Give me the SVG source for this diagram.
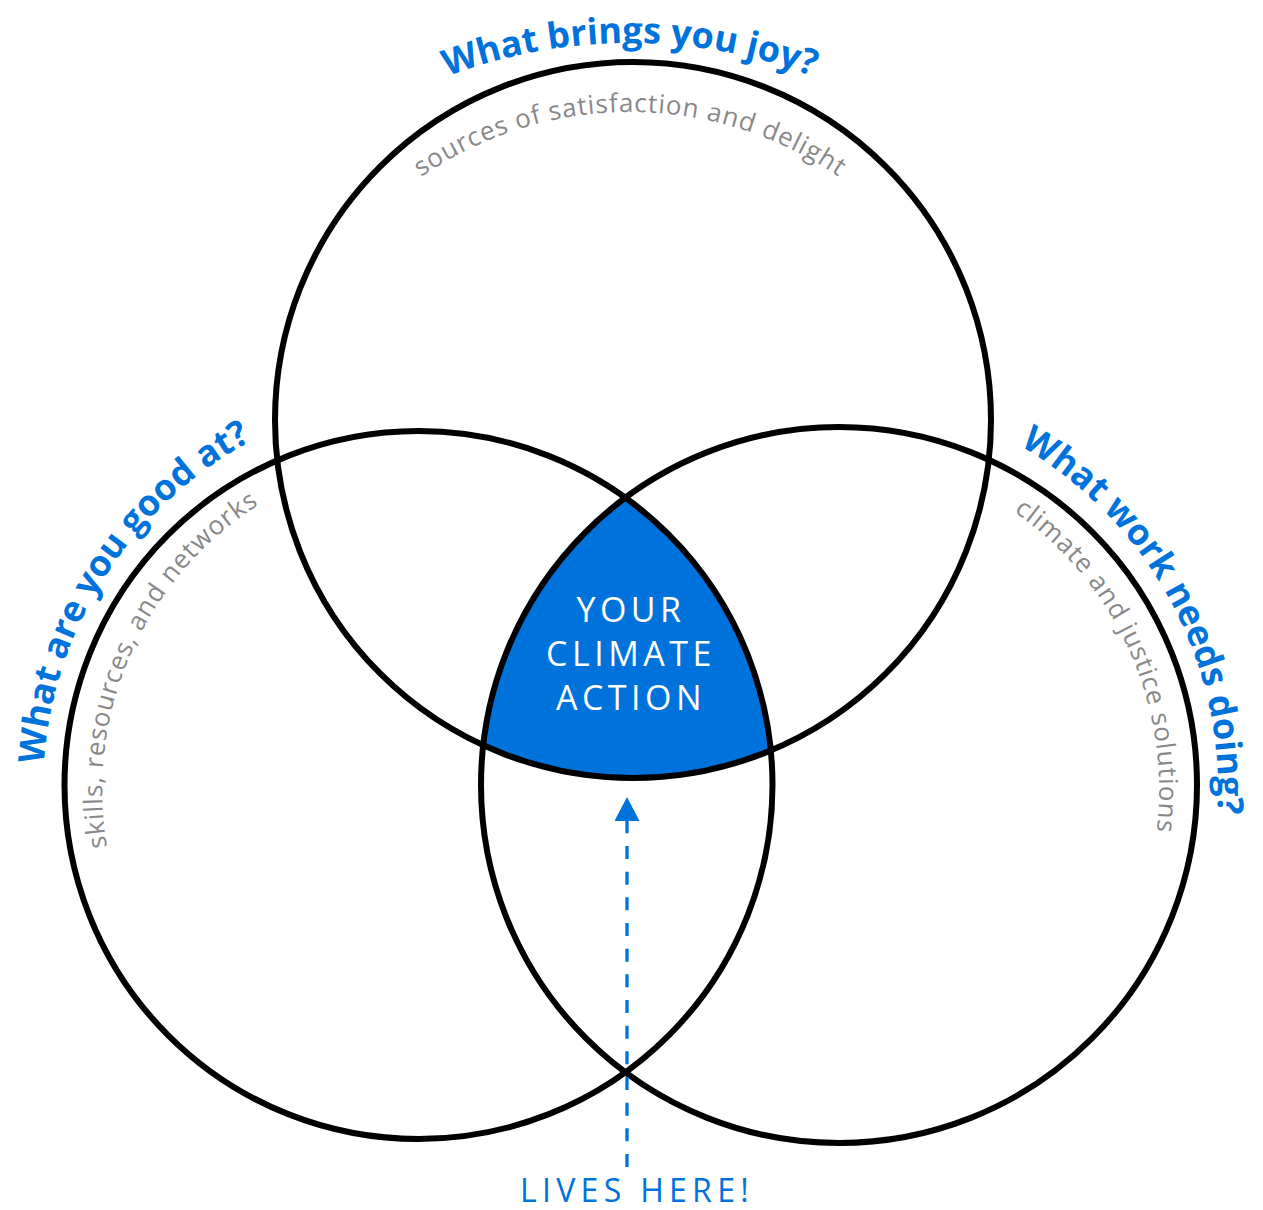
<svg xmlns="http://www.w3.org/2000/svg" width="1263" height="1210" viewBox="0 0 1263 1210">
<style>
.circ{fill:none;stroke:#000;stroke-width:6}
.title{font-family:"Open Sans","Noto Sans",sans-serif;font-weight:700;font-size:36px;fill:#0072DB}
.sub{font-family:"Open Sans","Noto Sans",sans-serif;font-size:26px;fill:#888888;letter-spacing:0.9px}
.mid{font-family:"Open Sans","Noto Sans",sans-serif;font-size:34px;fill:#fff;letter-spacing:4.5px;text-anchor:middle}
.lives{font-family:"Open Sans","Noto Sans",sans-serif;font-size:32px;fill:#0072DB;letter-spacing:5.3px;text-anchor:middle}
</style>
<defs>
<path id="pTopTitle" d="M 113 560 A 517 517 0 0 1 1147 560"/>
<path id="pTopSub" d="M 262 480 A 368 368 0 0 1 998 480"/>
<path id="pLeftTitle" d="M 225.5 1124.1 A 397 397 0 0 1 654.5 455.9"/>
<path id="pLeftSub" d="M 302.5 1098.8 A 338 338 0 0 1 577.5 481.2"/>
<path id="pRightTitle" d="M 631.6 439.4 A 398 398 0 0 1 1008.4 1140.6"/>
<path id="pRightSub" d="M 681.7 479.4 A 340 340 0 0 1 958.3 1100.6"/>
</defs>
<rect width="1263" height="1210" fill="#fff"/>
<g id="center-action">
<path d="M 625.4 497.8 A 358 358 0 0 0 483.3 745.1 A 358 358 0 0 0 770.8 750.4 A 354 354 0 0 0 625.4 497.8 Z" fill="#0072DB"/>
<text class="mid" x="631" y="622">YOUR</text>
<text class="mid" x="631" y="666">CLIMATE</text>
<text class="mid" x="631" y="710">ACTION</text>
</g>
<g id="circle-joy">
<circle class="circ" cx="633" cy="420" r="358"/>
<text class="title"><textPath href="#pTopTitle" startOffset="50%" text-anchor="middle">What brings you joy?</textPath></text>
<text class="sub"><textPath href="#pTopSub" startOffset="50%" text-anchor="middle">sources of satisfaction and delight</textPath></text>
</g>
<g id="circle-good">
<circle class="circ" cx="418.5" cy="785" r="354"/>
<text class="title"><textPath href="#pLeftTitle" startOffset="50%" text-anchor="middle">What are you good at?</textPath></text>
<text class="sub"><textPath href="#pLeftSub" startOffset="50%" text-anchor="middle">skills, resources, and networks</textPath></text>
</g>
<g id="circle-work">
<circle class="circ" cx="839" cy="785" r="358"/>
<text class="title"><textPath href="#pRightTitle" startOffset="50%" text-anchor="middle">What work needs doing?</textPath></text>
<text class="sub"><textPath href="#pRightSub" startOffset="50%" text-anchor="middle">climate and justice solutions</textPath></text>
</g>
<g id="connectors">
<line x1="627" y1="1167" x2="627" y2="820" stroke="#0072DB" stroke-width="3.3" stroke-dasharray="13 12.67"/>
<path d="M627 797 L639.5 821 L614.5 821 Z" fill="#0072DB"/>
</g>
<g id="label-lives">
<text class="lives" x="637" y="1202">LIVES HERE!</text>
</g>
</svg>
